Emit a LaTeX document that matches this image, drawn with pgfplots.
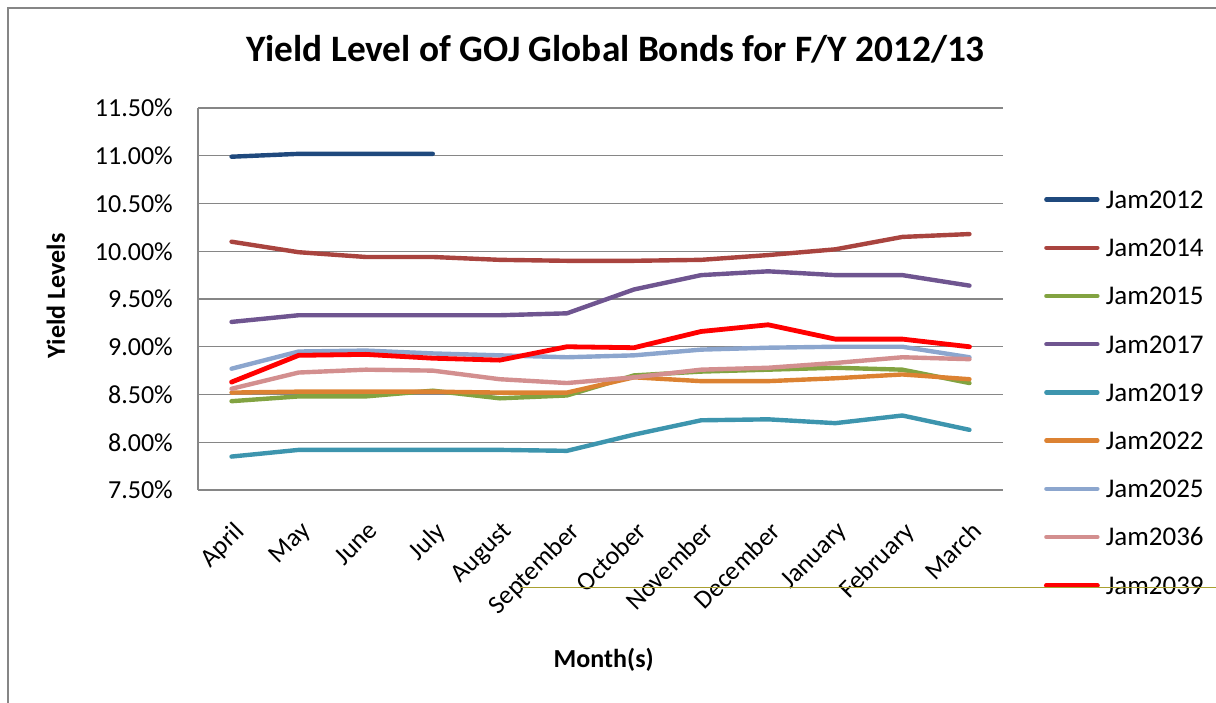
\documentclass[border=0pt]{standalone}
\usepackage{fontspec}
\setmainfont{Carlito}
\usepackage{pgfplots}
\pgfplotsset{compat=1.18}
\usepackage{pgfplotstable}
\definecolor{gridgray}{HTML}{868686}
\definecolor{cA}{HTML}{1F497D}
\definecolor{cB}{HTML}{A9443F}
\definecolor{cC}{HTML}{82A341}
\definecolor{cD}{HTML}{6F5590}
\definecolor{cE}{HTML}{3D95AE}
\definecolor{cF}{HTML}{DC8232}
\definecolor{cG}{HTML}{8CA6CE}
\definecolor{cH}{HTML}{D38F8F}
\definecolor{cI}{HTML}{FF0000}
\definecolor{stray}{HTML}{A9A030}

\pgfplotstableread{
m j12
0 10.99
1 11.02
2 11.02
3 11.02
}\dataA

\pgfplotstableread{
m j14 j15 j17 j19 j22 j25 j36 j39
0 10.10 8.43 9.26 7.85 8.52 8.77 8.56 8.63
1 9.99 8.48 9.33 7.92 8.53 8.95 8.73 8.91
2 9.94 8.48 9.33 7.92 8.53 8.96 8.76 8.92
3 9.94 8.54 9.33 7.92 8.53 8.93 8.75 8.88
4 9.91 8.46 9.33 7.92 8.52 8.91 8.66 8.86
5 9.90 8.49 9.35 7.91 8.52 8.89 8.62 9.00
6 9.90 8.70 9.60 8.08 8.68 8.91 8.68 8.99
7 9.91 8.74 9.75 8.23 8.64 8.97 8.76 9.16
8 9.96 8.76 9.79 8.24 8.64 8.99 8.78 9.23
9 10.02 8.78 9.75 8.20 8.67 9.00 8.83 9.08
10 10.15 8.76 9.75 8.28 8.71 9.00 8.89 9.08
11 10.18 8.62 9.64 8.13 8.66 8.89 8.87 9.00
}\dataB

\begin{document}
\begin{tikzpicture}[x=1pt,y=1pt]
\path[use as bounding box] (0,0) rectangle (1216,-703);
\begin{axis}[
  at={(198pt,-490pt)}, anchor=south west,
  width=805pt, height=382pt, scale only axis,
  xmin=-0.5, xmax=11.5, ymin=7.5, ymax=11.5,
  xtick={0,...,11},
  xticklabels={April,May,June,July,August,September,October,November,December,January,February,March},
  ytick={7.5,8,8.5,9,9.5,10,10.5,11,11.5},
  yticklabel={\pgfmathprintnumber[fixed,fixed zerofill,precision=2]{\tick}\%},
  /pgf/number format/assume math mode=true,
  axis lines=left,
  axis line style={draw=gridgray, line width=1.3pt, -},
  ymajorgrids, grid style={draw=gridgray, line width=1.3pt},
  major tick length=0pt,
  yticklabel style={font=\fontsize{26}{26}\selectfont, inner sep=0pt, anchor=east, xshift=-25pt},
  xticklabel style={font=\fontsize{26}{26}\selectfont, inner sep=0pt, xshift=1pt, yshift=-30pt, rotate=45, anchor=north east},
  title={Yield Level of GOJ Global Bonds for F/Y 2012/13},
  title style={font=\fontsize{37.3}{37.3}\selectfont\bfseries, at={(axis description cs:0.519,1.139)}, anchor=center},
  xlabel={Month(s)},
  xlabel style={font=\fontsize{26}{26}\selectfont\bfseries, at={(axis description cs:0.504,-0.445)}, anchor=center},
  ylabel={Yield Levels},
  ylabel style={font=\fontsize{26}{26}\selectfont\bfseries, at={(axis description cs:-0.1765,0.508)}, anchor=center},
  legend cell align=left,
  legend style={draw=none, fill=none, inner sep=0pt, outer sep=0pt,
    at={(axis description cs:1.0509,0.7838)}, anchor=north west,
    row sep=30.2pt, column sep=6pt,
    font=\fontsize{27}{27}\selectfont,
    nodes={inner sep=0pt, outer sep=0pt, text height=18pt, text depth=0pt}},
  legend image code/.code={\draw[#1, line cap=round] (0pt,0pt) -- (51pt,0pt);},
  every axis plot/.append style={line width=4.4pt, line cap=round, line join=round},
]
\addplot[cA, mark=none] table[x=m, y=j12] {\dataA};
\addlegendentry{Jam2012}
\addplot[cB, mark=none] table[x=m, y=j14] {\dataB};
\addlegendentry{Jam2014}
\addplot[cC, mark=none] table[x=m, y=j15] {\dataB};
\addlegendentry{Jam2015}
\addplot[cD, mark=none] table[x=m, y=j17] {\dataB};
\addlegendentry{Jam2017}
\addplot[cE, mark=none] table[x=m, y=j19] {\dataB};
\addlegendentry{Jam2019}
\addplot[cF, mark=none] table[x=m, y=j22] {\dataB};
\addlegendentry{Jam2022}
\addplot[cG, mark=none] table[x=m, y=j25] {\dataB};
\addlegendentry{Jam2025}
\addplot[cH, mark=none] table[x=m, y=j36] {\dataB};
\addlegendentry{Jam2036}
\addplot[cI, mark=none, line width=4.8pt] table[x=m, y=j39] {\dataB};
\addlegendentry{Jam2039}
\end{axis}
\draw[gridgray, line width=2.5pt] (8,-703) -- (8,-8) -- (1216,-8);
\draw[stray, line width=1pt] (520,-587.5) -- (1216,-587.5);
\end{tikzpicture}
\end{document}
